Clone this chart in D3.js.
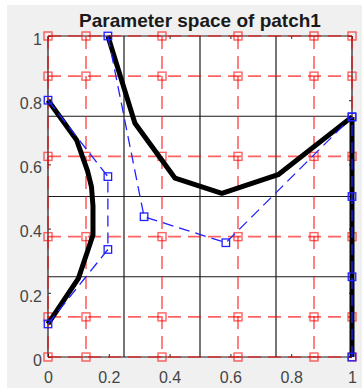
<!DOCTYPE html>
<html>
<head>
<meta charset="utf-8">
<script src="https://cdn.jsdelivr.net/npm/d3@7"></script>
<style>
  html, body { margin: 0; padding: 0; background: #ffffff; }
  svg { display: block; }
  text { font-family: "Liberation Sans", Arial, sans-serif; }
</style>
</head>
<body>
<svg id="chart" width="362" height="390"></svg>
<script>
// Axis ticks
const xTicks = [0, 0.2, 0.4, 0.6, 0.8, 1];
const yTicks = [0, 0.2, 0.4, 0.6, 0.8, 1];

// Knot lines of the parameter domain (solid black grid)
const knotLines = [0, 0.25, 0.5, 0.75, 1];

// Sampling lines and sample points (red dashed grid with squares)
const sampleLines = [0, 0.125, 0.375, 0.625, 0.875, 1];

// Trimming curve 1 (left): control polygon and evaluated curve
const ctrl1X = [0, 0.197, 0.197, 0];
const ctrl1Y = [0.80, 0.562, 0.335, 0.103];
const curve1X = [0, 0.094, 0.130, 0.143, 0.148, 0.148, 0.100, 0];
const curve1Y = [0.80, 0.676, 0.580, 0.530, 0.470, 0.380, 0.245, 0.103];

// Trimming curve 2 (middle): control polygon and evaluated curve
const ctrl2X = [0.197, 0.316, 0.585, 1];
const ctrl2Y = [1.0, 0.437, 0.356, 0.748];
const curve2X = [0.197, 0.286, 0.418, 0.572, 0.757, 1];
const curve2Y = [1.0, 0.728, 0.557, 0.510, 0.568, 0.748];

// Trimming curve 3 (right edge): control polygon and evaluated curve
const ctrl3X = [1, 1, 1, 1];
const ctrl3Y = [0, 0.25, 0.5, 0.748];
const curve3X = [1, 1];
const curve3Y = [0, 0.748];

const svg = d3.select("#chart");

// Figure background
svg.append("rect")
  .attr("x", 7).attr("y", 5)
  .attr("width", 355).attr("height", 383)
  .attr("fill", "#f0f0f0");

const margin = { left: 48, top: 36, right: 10, bottom: 33 };
const W = 362 - margin.left - margin.right;   // 304
const H = 390 - margin.top - margin.bottom;   // 321

const x = d3.scaleLinear().domain([0, 1]).range([0, W]);
const y = d3.scaleLinear().domain([0, 1]).range([H, 0]);

const g = svg.append("g").attr("transform", `translate(${margin.left},${margin.top})`);

// Axes area
g.append("rect").attr("width", W).attr("height", H).attr("fill", "#ffffff");

// Black knot grid
const knot = g.append("g").attr("stroke", "#1a1a1a").attr("stroke-width", 1.2);
knot.selectAll("line.kv").data(knotLines).join("line")
  .attr("class", "kv")
  .attr("x1", d => x(d)).attr("x2", d => x(d))
  .attr("y1", 0).attr("y2", H);
knot.selectAll("line.kh").data(knotLines).join("line")
  .attr("class", "kh")
  .attr("y1", d => y(d)).attr("y2", d => y(d))
  .attr("x1", 0).attr("x2", W);

// Ticks (inside, on all four sides) and labels
const tickColor = "#262626";
const axB = g.append("g").attr("transform", `translate(0,${H})`)
  .call(d3.axisBottom(x).tickValues(xTicks).tickSize(-3).tickPadding(15)
    .tickFormat(d3.format("~g")));
const axL = g.append("g")
  .call(d3.axisLeft(y).tickValues(yTicks).tickSize(-3).tickPadding(6)
    .tickFormat(d3.format("~g")));
const axT = g.append("g")
  .call(d3.axisTop(x).tickValues(xTicks).tickSize(-3).tickFormat(""));
const axR = g.append("g").attr("transform", `translate(${W},0)`)
  .call(d3.axisRight(y).tickValues(yTicks).tickSize(-3).tickFormat(""));
[axB, axL, axT, axR].forEach(a => {
  a.select(".domain").remove();
  a.selectAll(".tick line").attr("stroke", tickColor).attr("stroke-width", 1);
  a.selectAll("text")
    .attr("fill", "#454545")
    .attr("font-size", 16)
    .attr("font-family", "'Liberation Sans', Arial, sans-serif");
});
axL.selectAll("text").attr("dy", "0.52em");

// Red sampling grid
const red = g.append("g")
  .attr("stroke", "#ff0000").attr("stroke-opacity", 0.62)
  .attr("fill", "none");
red.selectAll("line.sv").data(sampleLines).join("line")
  .attr("class", "sv")
  .attr("x1", d => x(d)).attr("x2", d => x(d))
  .attr("y1", 0).attr("y2", H)
  .attr("stroke-width", 1.6).attr("stroke-dasharray", "13,7");
red.selectAll("line.sh").data(sampleLines).join("line")
  .attr("class", "sh")
  .attr("y1", d => y(d)).attr("y2", d => y(d))
  .attr("x1", 0).attr("x2", W)
  .attr("stroke-width", 1.6).attr("stroke-dasharray", "13,7");
const samplePts = d3.cross(sampleLines, sampleLines);
const rs = 8;
red.selectAll("rect").data(samplePts).join("rect")
  .attr("x", d => x(d[0]) - rs / 2).attr("y", d => y(d[1]) - rs / 2)
  .attr("width", rs).attr("height", rs)
  .attr("stroke-width", 1.4);

// Evaluated trimming curves (thick black)
const line = d3.line().x(d => x(d[0])).y(d => y(d[1]));
const curves = [
  d3.zip(curve1X, curve1Y),
  d3.zip(curve2X, curve2Y),
  d3.zip(curve3X, curve3Y)
];
g.append("g").selectAll("path").data(curves).join("path")
  .attr("d", line)
  .attr("fill", "none")
  .attr("stroke", "#000000")
  .attr("stroke-width", 5)
  .attr("stroke-linejoin", "round")
  .attr("stroke-linecap", "butt");

// Control polygons (blue dashed with square vertices)
const polys = [
  d3.zip(ctrl1X, ctrl1Y),
  d3.zip(ctrl2X, ctrl2Y),
  d3.zip(ctrl3X, ctrl3Y)
];
const blue = g.append("g").attr("fill", "none").attr("stroke", "#2020ff");
blue.selectAll("path").data(polys).join("path")
  .attr("d", line)
  .attr("stroke-width", 1.3)
  .attr("stroke-dasharray", "11,6");
const bs = 7.5;
blue.selectAll("rect").data(polys.flat()).join("rect")
  .attr("x", d => x(d[0]) - bs / 2).attr("y", d => y(d[1]) - bs / 2)
  .attr("width", bs).attr("height", bs)
  .attr("stroke-width", 1.3);

// Title
svg.append("text")
  .attr("x", margin.left + W / 2).attr("y", 27)
  .attr("text-anchor", "middle")
  .attr("font-size", 19)
  .attr("font-weight", "bold")
  .attr("fill", "#1a1a1a")
  .text("Parameter space of patch1");
</script>
</body>
</html>
